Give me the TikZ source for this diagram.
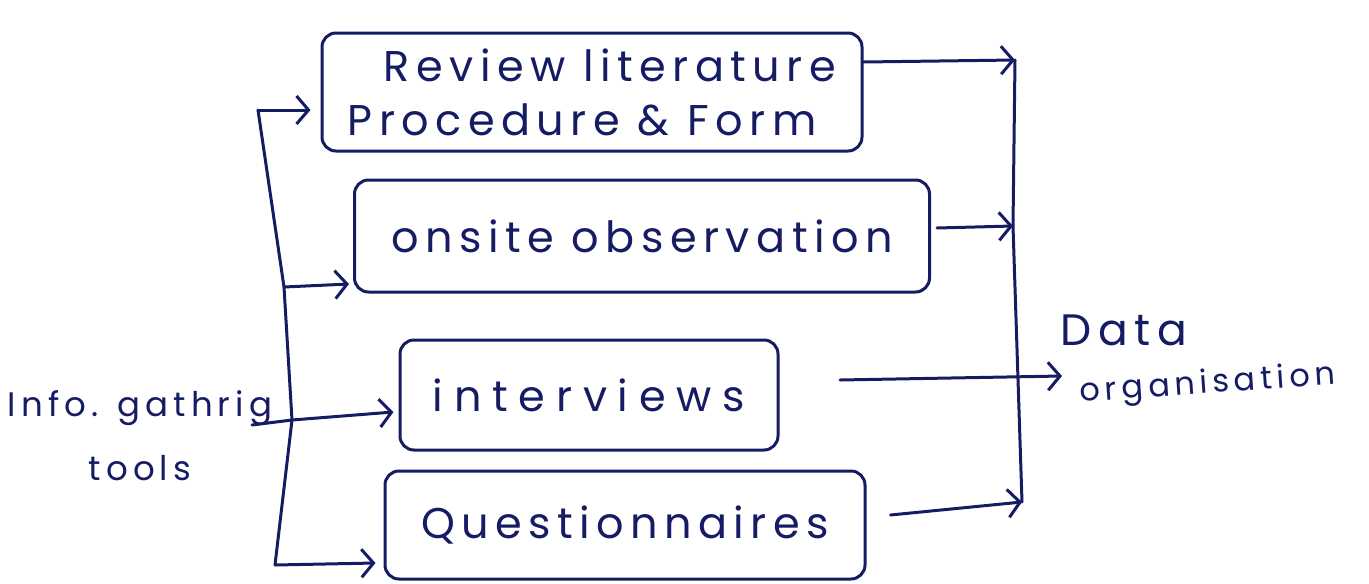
\documentclass[tikz,border=0pt]{standalone}
\usepackage{fontspec}
\usetikzlibrary{arrows.meta,calc}
\newfontfamily\handfont[LetterSpace=15]{Poppins}
\definecolor{inkc}{RGB}{22,28,100}
\begin{document}
\begin{tikzpicture}[x=1pt,y=-1pt,
  ink/.style={draw=inkc, line width=3pt, line cap=round, line join=round},
  arr/.style={ink, -{Straight Barb[length=12pt,width=28pt,line width=3pt]}},
  boxs/.style={ink, rounded corners=14pt, inner sep=0pt, text=inkc, font=\handfont\fontsize{43}{54}\selectfont},
  lbl/.style={text=inkc, inner sep=0pt, font=\handfont\fontsize{34}{40}\selectfont}]
\useasboundingbox (0,0) rectangle (1369,584);
% boxes
\node[boxs, minimum width=540pt, minimum height=118pt, align=left] (b1) at (592,92)
  {\hspace*{36pt}Review literature\\Procedure \& Form};
\node[boxs, minimum width=575pt, minimum height=112pt] (b2) at (642,236) {onsite observation};
\node[boxs, minimum width=378pt, minimum height=110pt] (b3) at (589,395) {\addfontfeatures{LetterSpace=25}interviews};
\node[boxs, minimum width=480pt, minimum height=108pt] (b4) at (625,525) {Questionnaires};
% labels
\node[lbl] (inf) at (140,408) {Info. gathrig};
\node[lbl] (tools) at (140,468) {tools};
\node[lbl, font=\handfont\fontsize{44}{48}\selectfont] (data) at (1124,330) {Data};
\node[lbl, rotate=4, anchor=west, font=\handfont\fontsize{32}{36}\selectfont] (org) at (1080,394) {organisation};
% left junctions
\coordinate (lt) at (258,110);
\coordinate (l2) at (284,287);
\coordinate (l3) at (292,420);
\coordinate (lb) at (275,565);
\coordinate (in) at (252,425);
% right junctions
\coordinate (rt) at (1015,60);
\coordinate (r2) at (1013,226);
\coordinate (rb) at (1022,502);
\coordinate (i1) at (840,380);
\coordinate (i2) at (1062,376);
% left tree
\draw[ink] (lt) -- (l2) -- (l3) -- (lb);
\draw[ink] (in) -- (l3);
\draw[arr] (lt) -- ([yshift=-18pt,xshift=-10pt]b1.west);
\draw[arr] (l2) -- ([yshift=-48pt,xshift=-4pt]b2.west);
\draw[arr] (l3) -- ([yshift=-17pt,xshift=-5pt]b3.west);
\draw[arr] (lb) -- ([yshift=-38pt,xshift=-8pt]b4.west);
% right tree
\draw[ink] (rt) -- (r2) -- (rb);
\draw[arr] ([yshift=30pt]b1.east) -- (rt);
\draw[arr] ([yshift=8pt,xshift=6pt]b2.east) -- (r2);
\draw[arr] ([yshift=10pt,xshift=24pt]b4.east) -- (rb);
\draw[arr] (i1) -- (i2);
\end{tikzpicture}
\end{document}
